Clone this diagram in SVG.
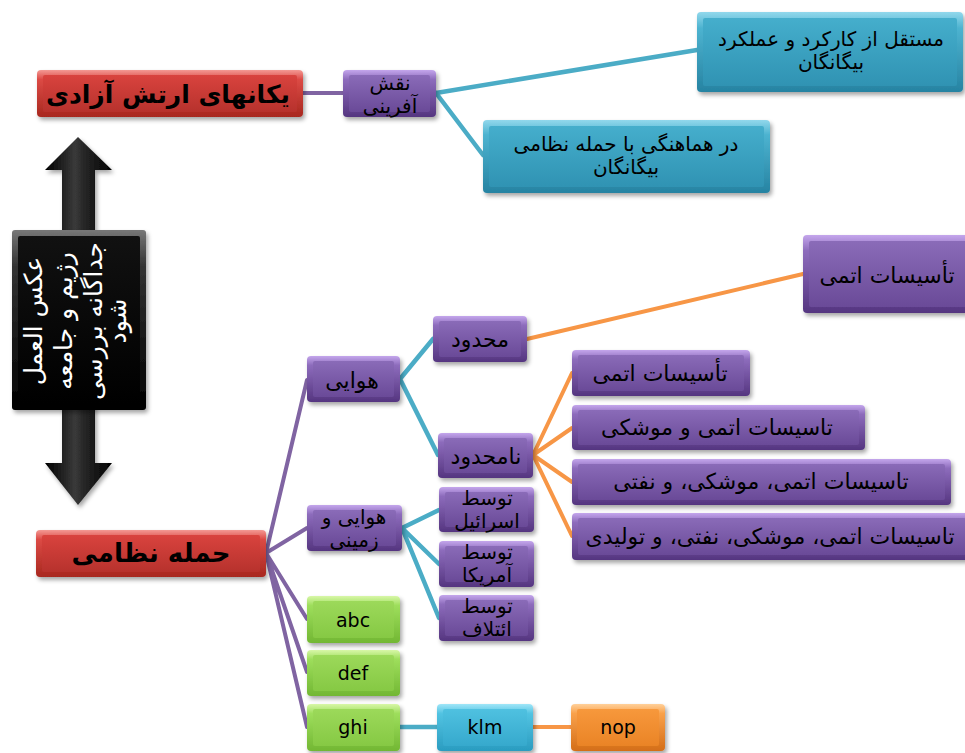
<svg xmlns="http://www.w3.org/2000/svg" width="965" height="753" viewBox="0 0 965 753">
<defs>
<filter id="sh" x="-10%" y="-20%" width="130%" height="160%"><feDropShadow dx="2" dy="3" stdDeviation="2" flood-color="#000" flood-opacity="0.35"/></filter>
<linearGradient id="puO" x1="0" y1="0" x2="0" y2="1"><stop offset="0" stop-color="#c4a6ec"/><stop offset="0.2" stop-color="#8d6cbc"/><stop offset="1" stop-color="#553580"/></linearGradient>
<linearGradient id="puI" x1="0" y1="0" x2="0" y2="1"><stop offset="0" stop-color="#8a6bb8"/><stop offset="1" stop-color="#6a4a98"/></linearGradient>
<linearGradient id="reO" x1="0" y1="0" x2="0" y2="1"><stop offset="0" stop-color="#f49a94"/><stop offset="0.2" stop-color="#dc4a45"/><stop offset="1" stop-color="#a8281f"/></linearGradient>
<linearGradient id="reI" x1="0" y1="0" x2="0" y2="1"><stop offset="0" stop-color="#d9433e"/><stop offset="1" stop-color="#b7322d"/></linearGradient>
<linearGradient id="teO" x1="0" y1="0" x2="0" y2="1"><stop offset="0" stop-color="#92d8ec"/><stop offset="0.2" stop-color="#4db3d0"/><stop offset="1" stop-color="#2683a2"/></linearGradient>
<linearGradient id="teI" x1="0" y1="0" x2="0" y2="1"><stop offset="0" stop-color="#45aecc"/><stop offset="1" stop-color="#3093b3"/></linearGradient>
<linearGradient id="cyO" x1="0" y1="0" x2="0" y2="1"><stop offset="0" stop-color="#a0e6f8"/><stop offset="0.2" stop-color="#52c3e2"/><stop offset="1" stop-color="#2a9cc0"/></linearGradient>
<linearGradient id="cyI" x1="0" y1="0" x2="0" y2="1"><stop offset="0" stop-color="#4fc1e0"/><stop offset="1" stop-color="#36a9cd"/></linearGradient>
<linearGradient id="grO" x1="0" y1="0" x2="0" y2="1"><stop offset="0" stop-color="#d8f7a8"/><stop offset="0.2" stop-color="#9ede5c"/><stop offset="1" stop-color="#72b733"/></linearGradient>
<linearGradient id="grI" x1="0" y1="0" x2="0" y2="1"><stop offset="0" stop-color="#9cd95a"/><stop offset="1" stop-color="#86c944"/></linearGradient>
<linearGradient id="orO" x1="0" y1="0" x2="0" y2="1"><stop offset="0" stop-color="#ffd09a"/><stop offset="0.2" stop-color="#f9a14a"/><stop offset="1" stop-color="#d46e18"/></linearGradient>
<linearGradient id="orI" x1="0" y1="0" x2="0" y2="1"><stop offset="0" stop-color="#f7983c"/><stop offset="1" stop-color="#ea8426"/></linearGradient>
<linearGradient id="bkO" x1="0" y1="0" x2="0" y2="1"><stop offset="0" stop-color="#777"/><stop offset="0.2" stop-color="#333"/><stop offset="1" stop-color="#000"/></linearGradient>
<linearGradient id="bkI" x1="0" y1="0" x2="0" y2="1"><stop offset="0" stop-color="#111"/><stop offset="1" stop-color="#000"/></linearGradient>
<linearGradient id="arr" x1="0" y1="0" x2="1" y2="0"><stop offset="0" stop-color="#000"/><stop offset="0.45" stop-color="#3a3a3a"/><stop offset="0.55" stop-color="#2a2a2a"/><stop offset="1" stop-color="#000"/></linearGradient>
</defs>
<style>
.node .o{filter:url(#sh)}
.pu .o{fill:url(#puO)} .pu .i{fill:url(#puI)}
.re .o{fill:url(#reO)} .re .i{fill:url(#reI)}
.te .o{fill:url(#teO)} .te .i{fill:url(#teI)}
.cy .o{fill:url(#cyO)} .cy .i{fill:url(#cyI)}
.gr .o{fill:url(#grO)} .gr .i{fill:url(#grI)}
.or .o{fill:url(#orO)} .or .i{fill:url(#orI)}
.bk .o{fill:url(#bkO)} .bk .i{fill:url(#bkI)}
.t{font-family:"DejaVu Sans",sans-serif;font-size:22px;text-anchor:middle;fill:#000}
.l{font-size:19px}
.s{font-size:20px}
.fa{direction:rtl}
.b{font-weight:bold;font-size:25px}
.w{fill:#fff;font-size:25px}
.cp{stroke:#8064a2;stroke-width:4}
.ct{stroke:#4bacc6;stroke-width:4.5}
.co{stroke:#f79646;stroke-width:4}
</style>
<rect width="965" height="753" fill="#fff"/>

<g id="connectors" fill="none" stroke-linecap="round">
<path class="cp" d="M303,93 L343,93"/>
<path class="cp" d="M266,553 L307,380 M266,553 L307,528 M266,553 L307,619 M266,553 L307,672 M266,553 L307,727"/>
<path class="ct" d="M436,93 L697,50 M436,93 L483,155"/>
<path class="ct" d="M400,379 L433,339 M400,379 L438,455"/>
<path class="ct" d="M402,528 L439,510 M402,528 L439,564 M402,528 L439,618"/>
<path class="ct" d="M400,727 L437,727"/>
<path class="co" d="M527,339 L803,274"/>
<path class="co" d="M533,455 L572,373 M533,455 L572,428 M533,455 L572,482 M533,455 L572,536"/>
<path class="co" d="M533,727 L571,727"/>
</g>

<g id="arrow">
<polygon points="78,137 112,170 95,170 95,463 112,463 78,505 45,463 62,463 62,170 45,170" fill="url(#arr)" filter="url(#sh)"/>
</g>

<g id="n-reaction" class="node bk">
<rect class="o" x="12" y="230" width="134" height="180" rx="3"/>
<rect class="i" x="18" y="236" width="122" height="168" rx="2"/>
<g transform="translate(78,321) rotate(-90)">
<text class="t fa w" x="0" y="-36">عکس العمل</text>
<text class="t fa w" x="0" y="-6">رژیم و جامعه</text>
<text class="t fa w" x="0" y="24">جداگانه بررسی</text>
<text class="t fa w" x="0" y="48">شود</text>
</g>
</g>

<g id="n-units" class="node re">
<rect class="o" x="37" y="70" width="266" height="47" rx="4"/>
<rect class="i" x="43" y="75" width="254" height="37" rx="2"/>
<text class="t fa b" x="168" y="103">یکانهای ارتش آزادی</text>
</g>

<g id="n-role" class="node pu">
<rect class="o" x="343" y="70" width="93" height="47" rx="4"/>
<rect class="i" x="349" y="75" width="81" height="37" rx="2"/>
<text class="t fa s" x="390" y="90">نقش</text>
<text class="t fa s" x="390" y="113">آفرینی</text>
</g>

<g id="n-indep" class="node te">
<rect class="o" x="697" y="12" width="266" height="80" rx="4"/>
<rect class="i" x="703" y="18" width="254" height="68" rx="2"/>
<text class="t fa s" x="831" y="46">مستقل از کارکرد و عملکرد</text>
<text class="t fa s" x="831" y="69">بیگانگان</text>
</g>

<g id="n-coord" class="node te">
<rect class="o" x="483" y="120" width="287" height="73" rx="4"/>
<rect class="i" x="489" y="126" width="275" height="61" rx="2"/>
<text class="t fa s" x="626" y="151">در هماهنگی با حمله نظامی</text>
<text class="t fa s" x="626" y="174">بیگانگان</text>
</g>

<g id="n-attack" class="node re">
<rect class="o" x="36" y="530" width="230" height="47" rx="4"/>
<rect class="i" x="42" y="535" width="218" height="37" rx="2"/>
<text class="t fa b" x="151" y="562" style="font-size:26px">حمله نظامی</text>
</g>

<g id="n-air" class="node pu">
<rect class="o" x="307" y="356" width="93" height="46" rx="4"/>
<rect class="i" x="313" y="361" width="81" height="36" rx="2"/>
<text class="t fa" x="352" y="388">هوایی</text>
</g>

<g id="n-limited" class="node pu">
<rect class="o" x="433" y="316" width="94" height="46" rx="4"/>
<rect class="i" x="439" y="321" width="82" height="36" rx="2"/>
<text class="t fa" x="480" y="347">محدود</text>
</g>

<g id="n-unlimited" class="node pu">
<rect class="o" x="438" y="433" width="95" height="45" rx="4"/>
<rect class="i" x="444" y="438" width="83" height="35" rx="2"/>
<text class="t fa" x="486" y="464">نامحدود</text>
</g>

<g id="n-atomic1" class="node pu">
<rect class="o" x="803" y="235" width="172" height="78" rx="4"/>
<rect class="i" x="809" y="241" width="160" height="66" rx="2"/>
<text class="t fa" x="887" y="283">تأسیسات اتمی</text>
</g>

<g id="n-atomic2" class="node pu">
<rect class="o" x="572" y="350" width="178" height="46" rx="4"/>
<rect class="i" x="578" y="355" width="166" height="36" rx="2"/>
<text class="t fa" x="660" y="381">تأسیسات اتمی</text>
</g>

<g id="n-atomic-missile" class="node pu">
<rect class="o" x="572" y="405" width="293" height="45" rx="4"/>
<rect class="i" x="578" y="410" width="281" height="35" rx="2"/>
<text class="t fa" x="717" y="435">تاسیسات اتمی و موشکی</text>
</g>

<g id="n-atomic-oil" class="node pu">
<rect class="o" x="572" y="459" width="379" height="46" rx="4"/>
<rect class="i" x="578" y="464" width="367" height="36" rx="2"/>
<text class="t fa" x="761" y="489">تاسیسات اتمی، موشکی، و نفتی</text>
</g>

<g id="n-atomic-prod" class="node pu">
<rect class="o" x="572" y="513" width="400" height="47" rx="4"/>
<rect class="i" x="578" y="518" width="388" height="37" rx="2"/>
<text class="t fa" x="770" y="544">تاسیسات اتمی، موشکی، نفتی، و تولیدی</text>
</g>

<g id="n-airground" class="node pu">
<rect class="o" x="307" y="505" width="95" height="46" rx="4"/>
<rect class="i" x="313" y="510" width="83" height="36" rx="2"/>
<text class="t fa s" x="354" y="524">هوایی و</text>
<text class="t fa s" x="354" y="547">زمینی</text>
</g>

<g id="n-israel" class="node pu">
<rect class="o" x="439" y="487" width="95" height="45" rx="4"/>
<rect class="i" x="445" y="492" width="83" height="35" rx="2"/>
<text class="t fa s" x="487" y="505">توسط</text>
<text class="t fa s" x="487" y="528">اسرائیل</text>
</g>

<g id="n-usa" class="node pu">
<rect class="o" x="439" y="541" width="95" height="46" rx="4"/>
<rect class="i" x="445" y="546" width="83" height="36" rx="2"/>
<text class="t fa s" x="487" y="559">توسط</text>
<text class="t fa s" x="487" y="582">آمریکا</text>
</g>

<g id="n-coalition" class="node pu">
<rect class="o" x="439" y="595" width="95" height="46" rx="4"/>
<rect class="i" x="445" y="600" width="83" height="36" rx="2"/>
<text class="t fa s" x="487" y="613">توسط</text>
<text class="t fa s" x="487" y="636">ائتلاف</text>
</g>

<g id="n-abc" class="node gr">
<rect class="o" x="307" y="596" width="93" height="47" rx="4"/>
<rect class="i" x="313" y="601" width="81" height="37" rx="2"/>
<text class="t l" x="353" y="627">abc</text>
</g>

<g id="n-def" class="node gr">
<rect class="o" x="307" y="650" width="93" height="46" rx="4"/>
<rect class="i" x="313" y="655" width="81" height="36" rx="2"/>
<text class="t l" x="353" y="680">def</text>
</g>

<g id="n-ghi" class="node gr">
<rect class="o" x="307" y="704" width="93" height="47" rx="4"/>
<rect class="i" x="313" y="709" width="81" height="37" rx="2"/>
<text class="t l" x="353" y="734">ghi</text>
</g>

<g id="n-klm" class="node cy">
<rect class="o" x="437" y="704" width="96" height="47" rx="4"/>
<rect class="i" x="443" y="709" width="84" height="37" rx="2"/>
<text class="t l" x="485" y="734">klm</text>
</g>

<g id="n-nop" class="node or">
<rect class="o" x="571" y="704" width="94" height="47" rx="4"/>
<rect class="i" x="577" y="709" width="82" height="37" rx="2"/>
<text class="t l" x="618" y="734">nop</text>
</g>
</svg>
